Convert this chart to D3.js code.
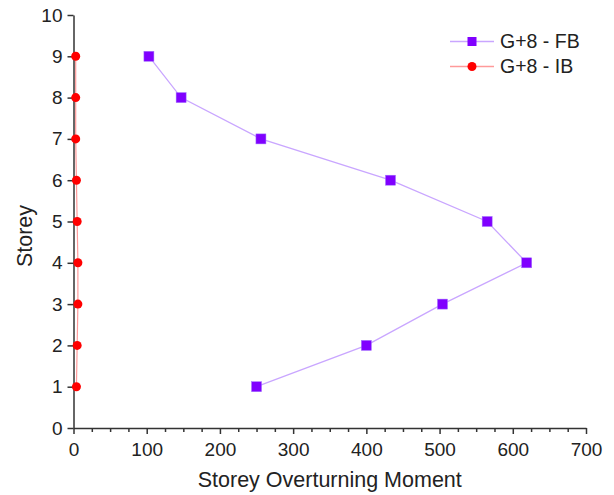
<!DOCTYPE html>
<html><head><meta charset="utf-8">
<script src="https://cdn.jsdelivr.net/npm/d3@7"></script>
<style>body{margin:0;background:#fff}svg{display:block}text{font-family:"Liberation Sans",Arial,sans-serif;fill:#222}</style>
</head><body>
<svg id="c" width="614" height="495"></svg>
<script>
const storeys = [1,2,3,4,5,6,7,8,9];
const fbValues = [250,400,504,619,565,433,256,147,103];
const ibValues = [4,5,6,6,5,4,3,3,3];
const xTicks = [0,100,200,300,400,500,600,700];
const yTicks = [0,1,2,3,4,5,6,7,8,9,10];
const seriesNames = ["G+8 - FB","G+8 - IB"];

const svg = d3.select("#c");
const L=73.5, R=586, T=15, B=428;
const x = d3.scaleLinear().domain([0,700]).range([L,R]);
const y = d3.scaleLinear().domain([0,10]).range([B,T]);

// minor x ticks
const gx = svg.append("g").attr("transform",`translate(0,${B})`);
gx.call(d3.axisBottom(x).tickValues(d3.range(0,701,25).filter(v=>v%100)).tickSize(4).tickFormat(""))
  .call(g=>g.select(".domain").remove());
const gx2 = svg.append("g").attr("transform",`translate(0,${B})`);
gx2.call(d3.axisBottom(x).tickValues(xTicks).tickSize(6).tickSizeOuter(0).tickPadding(9).tickFormat(d3.format("d")));
[gx,gx2].forEach(g=>g.selectAll("line,path").attr("stroke","#333").attr("stroke-width",1.5));
gx2.selectAll("text").attr("font-size",19).attr("fill","#222");

const gy = svg.append("g").attr("transform",`translate(${L},0)`);
gy.call(d3.axisLeft(y).tickValues(yTicks).tickSize(6).tickSizeOuter(0).tickPadding(5).tickFormat(d3.format("d")));
gy.selectAll("line,path").attr("stroke","#333").attr("stroke-width",1.5);
gy.selectAll("text").attr("font-size",19).attr("fill","#222");

svg.append("text").attr("x",(L+R)/2).attr("y",487).attr("text-anchor","middle").attr("font-size",21.5).text("Storey Overturning Moment");
svg.append("text").attr("transform",`translate(32,236) rotate(-90)`).attr("text-anchor","middle").attr("font-size",21.5).text("Storey");

const line = d3.line().x(d=>x(d[0])).y(d=>y(d[1]));
const fb = storeys.map((s,i)=>[fbValues[i],s]);
const ib = storeys.map((s,i)=>[ibValues[i],s]);

svg.append("path").datum(ib).attr("d",line).attr("fill","none").attr("stroke","#ff9a9a").attr("stroke-width",1.2);
svg.selectAll("circle.ib").data(ib).enter().append("circle").attr("cx",d=>x(d[0])).attr("cy",d=>y(d[1])).attr("r",4.5).attr("fill","#ff0000");

svg.append("path").datum(fb).attr("d",line).attr("fill","none").attr("stroke","#c9a6ff").attr("stroke-width",1.3);
svg.selectAll("rect.fb").data(fb).enter().append("rect").attr("x",d=>x(d[0])-5).attr("y",d=>y(d[1])-5).attr("width",10).attr("height",10).attr("fill","#8000ff").attr("stroke","#a070ff").attr("stroke-width",0.5);

// legend
const lg = svg.append("g");
const ly=[41.5,66.5];
lg.append("line").attr("x1",450).attr("x2",494).attr("y1",ly[0]).attr("y2",ly[0]).attr("stroke","#c9a6ff").attr("stroke-width",1.3);
lg.append("rect").attr("x",472-4.5).attr("y",ly[0]-4.5).attr("width",9).attr("height",9).attr("fill","#8000ff");
lg.append("line").attr("x1",450).attr("x2",494).attr("y1",ly[1]).attr("y2",ly[1]).attr("stroke","#ff9a9a").attr("stroke-width",1.3);
lg.append("circle").attr("cx",472).attr("cy",ly[1]).attr("r",4.5).attr("fill","#ff0000");
seriesNames.forEach((n,i)=>lg.append("text").attr("x",500).attr("y",ly[i]+6.5).attr("font-size",19.5).text(n));
</script>
</body></html>
